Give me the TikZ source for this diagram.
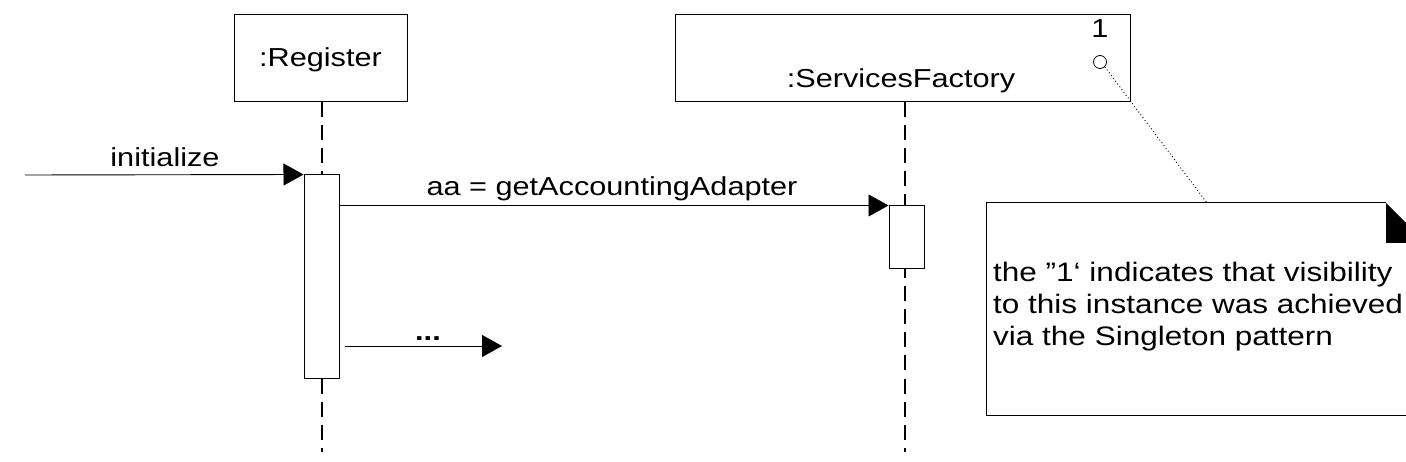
\documentclass[tikz,border=0pt]{standalone}
\usepackage{fontspec}
\setmainfont{Liberation Sans}[FakeStretch=1.18]
\usetikzlibrary{arrows.meta}
\begin{document}
\begin{tikzpicture}[x=1pt,y=-1pt,
  every node/.style={font=\fontsize{26}{31.7}\selectfont, inner sep=0pt},
  objbox/.style={draw, line width=1pt, fill=white},
  actbox/.style={draw, line width=1pt, fill=white, minimum width=35pt},
  lifeline/.style={line width=1.6pt, dash pattern=on 15pt off 8pt},
  msg/.style={line width=0.9pt, -{Triangle[length=20pt,width=22pt]}},
  lbl/.style={anchor=base},
  notetext/.style={anchor=base west, align=left, font=\fontsize{26.7}{31.7}\selectfont},
  notelink/.style={line width=1pt, dash pattern=on 0.9pt off 2.6pt}
]
\useasboundingbox (0,0) rectangle (1406,462);

% objects
\node[objbox, minimum width=173pt, minimum height=87pt] (reg) at (320.5,58.5) {};
\node[lbl] (reglbl) at (320.5,67) {:Register};
\node[objbox, minimum width=455pt, minimum height=87pt] (sf) at (902.5,58.5) {};
\node[lbl] (sflbl) at (901,88) {:ServicesFactory};
\node[lbl] (one) at (1100,38) {1};
\node[draw, circle, line width=0.8pt, minimum size=13pt] (ball) at (1100,62) {};

% lifelines
\coordinate (regend) at (322,452);
\coordinate (sfend) at (905,452);
\draw[lifeline] (reg.south -| regend) -- (regend);
\draw[lifeline] (sf.south -| sfend) -- (sfend);

% activations
\node[actbox, minimum height=203pt] (ract) at (321.5,276.5) {};
\node[actbox, minimum height=63pt] (sact) at (906.5,237.5) {};

% messages
\coordinate (start) at (25,175);
\draw[msg] (start) -- (ract.north west);
\node[lbl] (initlbl) at (165,167) {initialize};

\draw[msg] (ract.east |- sact.north) -- (sact.north west);
\node[lbl] (aalbl) at (612,196) {aa = getAccountingAdapter};

\coordinate (dotsstart) at (345,346);
\coordinate (dotsend) at (502,346);
\draw[msg] (dotsstart) -- (dotsend);
\node[lbl] (dotslbl) at (428,341) {\textbf{...}};

% note
\draw[line width=1pt] (1386,203) -- (986,203) -- (986,415) -- (1410,415);
\fill (1386,203) -- (1406,223) -- (1406,243) -- (1386,243) -- cycle;
\node[notetext] (note) at (993,345)
  {the ”1‘ indicates that visibility\\to this instance was achieved\\via the Singleton pattern};
\coordinate (noteattach) at (1207,203);
\draw[notelink] (ball.south east) -- (noteattach);
\end{tikzpicture}
\end{document}
